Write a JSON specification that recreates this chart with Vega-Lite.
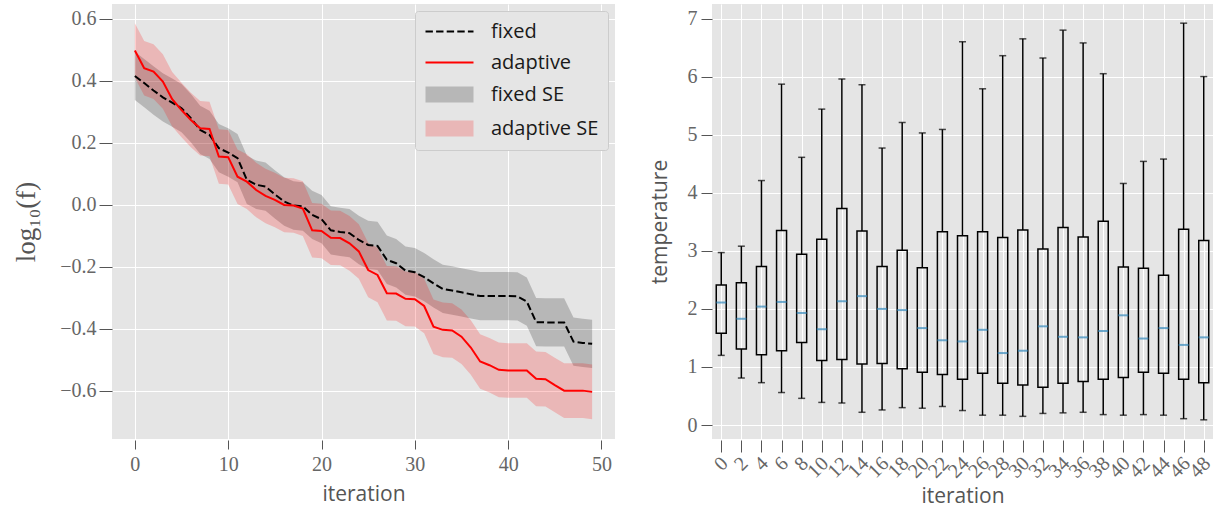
{
  "$schema": "https://vega.github.io/schema/vega-lite/v6.json",
  "background": "white",
  "padding": {"left": 12, "top": 4, "right": 0, "bottom": 0},
  "bounds": "flush",
  "spacing": 97,
  "config": {
    "view": {"fill": "#E5E5E5", "stroke": null},
    "axis": {
      "domain": false, "grid": true, "gridColor": "white", "gridWidth": 1,
      "tickColor": "#555555", "tickWidth": 1,
      "labelFont": "Liberation Serif", "labelFontSize": 20, "labelColor": "#666666",
      "titleFont": "Open Sans", "titleFontSize": 21, "titleFontWeight": "normal", "titleColor": "#555555"
    }
  },
  "datasets": {
    "curves": [
      {"iteration": 0, "fixed": 0.416, "adaptive": 0.498, "fixed_lo": 0.338, "fixed_hi": 0.494, "adaptive_lo": 0.410, "adaptive_hi": 0.586},
      {"iteration": 1, "fixed": 0.393, "adaptive": 0.441, "fixed_lo": 0.315, "fixed_hi": 0.471, "adaptive_lo": 0.353, "adaptive_hi": 0.529},
      {"iteration": 2, "fixed": 0.369, "adaptive": 0.430, "fixed_lo": 0.291, "fixed_hi": 0.447, "adaptive_lo": 0.342, "adaptive_hi": 0.518},
      {"iteration": 3, "fixed": 0.347, "adaptive": 0.398, "fixed_lo": 0.269, "fixed_hi": 0.425, "adaptive_lo": 0.310, "adaptive_hi": 0.486},
      {"iteration": 4, "fixed": 0.330, "adaptive": 0.341, "fixed_lo": 0.252, "fixed_hi": 0.408, "adaptive_lo": 0.253, "adaptive_hi": 0.429},
      {"iteration": 5, "fixed": 0.312, "adaptive": 0.306, "fixed_lo": 0.234, "fixed_hi": 0.390, "adaptive_lo": 0.218, "adaptive_hi": 0.394},
      {"iteration": 6, "fixed": 0.280, "adaptive": 0.274, "fixed_lo": 0.202, "fixed_hi": 0.358, "adaptive_lo": 0.186, "adaptive_hi": 0.362},
      {"iteration": 7, "fixed": 0.242, "adaptive": 0.247, "fixed_lo": 0.164, "fixed_hi": 0.320, "adaptive_lo": 0.159, "adaptive_hi": 0.335},
      {"iteration": 8, "fixed": 0.226, "adaptive": 0.245, "fixed_lo": 0.148, "fixed_hi": 0.304, "adaptive_lo": 0.157, "adaptive_hi": 0.333},
      {"iteration": 9, "fixed": 0.183, "adaptive": 0.156, "fixed_lo": 0.105, "fixed_hi": 0.261, "adaptive_lo": 0.068, "adaptive_hi": 0.244},
      {"iteration": 10, "fixed": 0.169, "adaptive": 0.154, "fixed_lo": 0.091, "fixed_hi": 0.247, "adaptive_lo": 0.066, "adaptive_hi": 0.242},
      {"iteration": 11, "fixed": 0.151, "adaptive": 0.091, "fixed_lo": 0.073, "fixed_hi": 0.229, "adaptive_lo": 0.003, "adaptive_hi": 0.179},
      {"iteration": 12, "fixed": 0.081, "adaptive": 0.075, "fixed_lo": 0.003, "fixed_hi": 0.159, "adaptive_lo": -0.013, "adaptive_hi": 0.163},
      {"iteration": 13, "fixed": 0.065, "adaptive": 0.048, "fixed_lo": -0.013, "fixed_hi": 0.143, "adaptive_lo": -0.040, "adaptive_hi": 0.136},
      {"iteration": 14, "fixed": 0.059, "adaptive": 0.029, "fixed_lo": -0.019, "fixed_hi": 0.137, "adaptive_lo": -0.059, "adaptive_hi": 0.117},
      {"iteration": 15, "fixed": 0.034, "adaptive": 0.016, "fixed_lo": -0.044, "fixed_hi": 0.112, "adaptive_lo": -0.072, "adaptive_hi": 0.104},
      {"iteration": 16, "fixed": 0.011, "adaptive": 0.000, "fixed_lo": -0.067, "fixed_hi": 0.089, "adaptive_lo": -0.088, "adaptive_hi": 0.088},
      {"iteration": 17, "fixed": -0.002, "adaptive": -0.002, "fixed_lo": -0.080, "fixed_hi": 0.076, "adaptive_lo": -0.090, "adaptive_hi": 0.086},
      {"iteration": 18, "fixed": -0.005, "adaptive": -0.012, "fixed_lo": -0.083, "fixed_hi": 0.073, "adaptive_lo": -0.100, "adaptive_hi": 0.076},
      {"iteration": 19, "fixed": -0.032, "adaptive": -0.082, "fixed_lo": -0.110, "fixed_hi": 0.046, "adaptive_lo": -0.170, "adaptive_hi": 0.006},
      {"iteration": 20, "fixed": -0.046, "adaptive": -0.084, "fixed_lo": -0.124, "fixed_hi": 0.032, "adaptive_lo": -0.172, "adaptive_hi": 0.004},
      {"iteration": 21, "fixed": -0.082, "adaptive": -0.106, "fixed_lo": -0.160, "fixed_hi": -0.004, "adaptive_lo": -0.194, "adaptive_hi": -0.018},
      {"iteration": 22, "fixed": -0.087, "adaptive": -0.107, "fixed_lo": -0.165, "fixed_hi": -0.009, "adaptive_lo": -0.195, "adaptive_hi": -0.019},
      {"iteration": 23, "fixed": -0.091, "adaptive": -0.124, "fixed_lo": -0.169, "fixed_hi": -0.013, "adaptive_lo": -0.212, "adaptive_hi": -0.036},
      {"iteration": 24, "fixed": -0.113, "adaptive": -0.150, "fixed_lo": -0.191, "fixed_hi": -0.035, "adaptive_lo": -0.238, "adaptive_hi": -0.062},
      {"iteration": 25, "fixed": -0.129, "adaptive": -0.210, "fixed_lo": -0.207, "fixed_hi": -0.051, "adaptive_lo": -0.298, "adaptive_hi": -0.122},
      {"iteration": 26, "fixed": -0.132, "adaptive": -0.226, "fixed_lo": -0.210, "fixed_hi": -0.054, "adaptive_lo": -0.314, "adaptive_hi": -0.138},
      {"iteration": 27, "fixed": -0.177, "adaptive": -0.285, "fixed_lo": -0.255, "fixed_hi": -0.099, "adaptive_lo": -0.373, "adaptive_hi": -0.197},
      {"iteration": 28, "fixed": -0.188, "adaptive": -0.286, "fixed_lo": -0.266, "fixed_hi": -0.110, "adaptive_lo": -0.374, "adaptive_hi": -0.198},
      {"iteration": 29, "fixed": -0.212, "adaptive": -0.303, "fixed_lo": -0.290, "fixed_hi": -0.134, "adaptive_lo": -0.391, "adaptive_hi": -0.215},
      {"iteration": 30, "fixed": -0.217, "adaptive": -0.304, "fixed_lo": -0.295, "fixed_hi": -0.139, "adaptive_lo": -0.392, "adaptive_hi": -0.216},
      {"iteration": 31, "fixed": -0.233, "adaptive": -0.326, "fixed_lo": -0.311, "fixed_hi": -0.155, "adaptive_lo": -0.414, "adaptive_hi": -0.238},
      {"iteration": 32, "fixed": -0.253, "adaptive": -0.393, "fixed_lo": -0.331, "fixed_hi": -0.175, "adaptive_lo": -0.481, "adaptive_hi": -0.305},
      {"iteration": 33, "fixed": -0.271, "adaptive": -0.403, "fixed_lo": -0.349, "fixed_hi": -0.193, "adaptive_lo": -0.491, "adaptive_hi": -0.315},
      {"iteration": 34, "fixed": -0.276, "adaptive": -0.405, "fixed_lo": -0.354, "fixed_hi": -0.198, "adaptive_lo": -0.493, "adaptive_hi": -0.317},
      {"iteration": 35, "fixed": -0.282, "adaptive": -0.425, "fixed_lo": -0.360, "fixed_hi": -0.204, "adaptive_lo": -0.513, "adaptive_hi": -0.337},
      {"iteration": 36, "fixed": -0.288, "adaptive": -0.460, "fixed_lo": -0.366, "fixed_hi": -0.210, "adaptive_lo": -0.548, "adaptive_hi": -0.372},
      {"iteration": 37, "fixed": -0.294, "adaptive": -0.505, "fixed_lo": -0.372, "fixed_hi": -0.216, "adaptive_lo": -0.593, "adaptive_hi": -0.417},
      {"iteration": 38, "fixed": -0.294, "adaptive": -0.517, "fixed_lo": -0.372, "fixed_hi": -0.216, "adaptive_lo": -0.605, "adaptive_hi": -0.429},
      {"iteration": 39, "fixed": -0.294, "adaptive": -0.532, "fixed_lo": -0.372, "fixed_hi": -0.216, "adaptive_lo": -0.620, "adaptive_hi": -0.444},
      {"iteration": 40, "fixed": -0.294, "adaptive": -0.534, "fixed_lo": -0.372, "fixed_hi": -0.216, "adaptive_lo": -0.622, "adaptive_hi": -0.446},
      {"iteration": 41, "fixed": -0.295, "adaptive": -0.534, "fixed_lo": -0.373, "fixed_hi": -0.217, "adaptive_lo": -0.622, "adaptive_hi": -0.446},
      {"iteration": 42, "fixed": -0.312, "adaptive": -0.534, "fixed_lo": -0.390, "fixed_hi": -0.234, "adaptive_lo": -0.622, "adaptive_hi": -0.446},
      {"iteration": 43, "fixed": -0.378, "adaptive": -0.561, "fixed_lo": -0.456, "fixed_hi": -0.300, "adaptive_lo": -0.649, "adaptive_hi": -0.473},
      {"iteration": 44, "fixed": -0.379, "adaptive": -0.562, "fixed_lo": -0.457, "fixed_hi": -0.301, "adaptive_lo": -0.650, "adaptive_hi": -0.474},
      {"iteration": 45, "fixed": -0.379, "adaptive": -0.581, "fixed_lo": -0.457, "fixed_hi": -0.301, "adaptive_lo": -0.669, "adaptive_hi": -0.493},
      {"iteration": 46, "fixed": -0.379, "adaptive": -0.599, "fixed_lo": -0.457, "fixed_hi": -0.301, "adaptive_lo": -0.687, "adaptive_hi": -0.511},
      {"iteration": 47, "fixed": -0.441, "adaptive": -0.599, "fixed_lo": -0.519, "fixed_hi": -0.363, "adaptive_lo": -0.687, "adaptive_hi": -0.511},
      {"iteration": 48, "fixed": -0.445, "adaptive": -0.599, "fixed_lo": -0.523, "fixed_hi": -0.367, "adaptive_lo": -0.687, "adaptive_hi": -0.511},
      {"iteration": 49, "fixed": -0.448, "adaptive": -0.603, "fixed_lo": -0.526, "fixed_hi": -0.370, "adaptive_lo": -0.691, "adaptive_hi": -0.515}
    ],
    "series": [
      {"series": "fixed"},
      {"series": "adaptive"},
      {"series": "fixed SE"},
      {"series": "adaptive SE"}
    ],
    "boxes": [
      {"iteration": 0, "lo": 1.20, "q1": 1.58, "median": 2.11, "q3": 2.41, "hi": 2.97},
      {"iteration": 2, "lo": 0.81, "q1": 1.31, "median": 1.83, "q3": 2.45, "hi": 3.08},
      {"iteration": 4, "lo": 0.73, "q1": 1.21, "median": 2.04, "q3": 2.73, "hi": 4.21},
      {"iteration": 6, "lo": 0.56, "q1": 1.28, "median": 2.12, "q3": 3.35, "hi": 5.87},
      {"iteration": 8, "lo": 0.46, "q1": 1.42, "median": 1.93, "q3": 2.94, "hi": 4.61},
      {"iteration": 10, "lo": 0.39, "q1": 1.11, "median": 1.65, "q3": 3.20, "hi": 5.44},
      {"iteration": 12, "lo": 0.38, "q1": 1.13, "median": 2.13, "q3": 3.73, "hi": 5.96},
      {"iteration": 14, "lo": 0.22, "q1": 1.05, "median": 2.22, "q3": 3.34, "hi": 5.86},
      {"iteration": 16, "lo": 0.26, "q1": 1.06, "median": 2.00, "q3": 2.73, "hi": 4.77},
      {"iteration": 18, "lo": 0.30, "q1": 0.97, "median": 1.98, "q3": 3.01, "hi": 5.21},
      {"iteration": 20, "lo": 0.29, "q1": 0.91, "median": 1.67, "q3": 2.71, "hi": 5.03},
      {"iteration": 22, "lo": 0.32, "q1": 0.87, "median": 1.46, "q3": 3.33, "hi": 5.09},
      {"iteration": 24, "lo": 0.25, "q1": 0.79, "median": 1.44, "q3": 3.26, "hi": 6.60},
      {"iteration": 26, "lo": 0.17, "q1": 0.89, "median": 1.64, "q3": 3.33, "hi": 5.79},
      {"iteration": 28, "lo": 0.17, "q1": 0.72, "median": 1.24, "q3": 3.23, "hi": 6.36},
      {"iteration": 30, "lo": 0.15, "q1": 0.69, "median": 1.28, "q3": 3.36, "hi": 6.65},
      {"iteration": 32, "lo": 0.20, "q1": 0.65, "median": 1.70, "q3": 3.03, "hi": 6.32},
      {"iteration": 34, "lo": 0.21, "q1": 0.72, "median": 1.52, "q3": 3.40, "hi": 6.80},
      {"iteration": 36, "lo": 0.22, "q1": 0.75, "median": 1.51, "q3": 3.24, "hi": 6.58},
      {"iteration": 38, "lo": 0.18, "q1": 0.79, "median": 1.62, "q3": 3.51, "hi": 6.05},
      {"iteration": 40, "lo": 0.17, "q1": 0.82, "median": 1.89, "q3": 2.72, "hi": 4.16},
      {"iteration": 42, "lo": 0.18, "q1": 0.91, "median": 1.49, "q3": 2.70, "hi": 4.54},
      {"iteration": 44, "lo": 0.17, "q1": 0.89, "median": 1.67, "q3": 2.58, "hi": 4.58},
      {"iteration": 46, "lo": 0.11, "q1": 0.79, "median": 1.38, "q3": 3.37, "hi": 6.92},
      {"iteration": 48, "lo": 0.09, "q1": 0.73, "median": 1.51, "q3": 3.18, "hi": 6.00}
    ]
  },
  "resolve": {
    "scale": {"fill": "independent", "stroke": "independent", "shape": "independent", "strokeDash": "independent"},
    "legend": {"fill": "independent", "stroke": "independent", "shape": "independent", "strokeDash": "independent"}
  },
  "hconcat": [
    {
      "width": 503,
      "height": 435,
      "view": {"fill": "#E5E5E5", "stroke": null},
      "layer": [
        {
          "data": {"name": "curves"},
          "mark": {"type": "area", "color": "black", "opacity": 0.2},
          "encoding": {
            "x": {
              "field": "iteration", "type": "quantitative",
              "scale": {"domain": [-2.45, 51.45], "nice": false, "zero": false},
              "axis": {"values": [0, 10, 20, 30, 40, 50], "format": "d", "title": "iteration", "labelFont": "Liberation Serif", "labelFontSize": 20, "tickSize": 9, "labelPadding": 5, "titlePadding": 9, "offset": 1}
            },
            "y": {
              "field": "fixed_lo", "type": "quantitative",
              "scale": {"domain": [-0.755, 0.648], "nice": false, "zero": false},
              "axis": {"values": [-0.6, -0.4, -0.2, 0, 0.2, 0.4, 0.6], "format": ".1f", "title": "log₁₀(f)", "labelFont": "Liberation Serif", "labelFontSize": 20, "titleFont": "Liberation Serif", "titleFontSize": 27, "titleColor": "#555555", "tickSize": 13, "labelPadding": 3, "titlePadding": 19}
            },
            "y2": {"field": "fixed_hi"}
          }
        },
        {
          "data": {"name": "curves"},
          "mark": {"type": "area", "color": "red", "opacity": 0.2},
          "encoding": {
            "x": {"field": "iteration", "type": "quantitative"},
            "y": {"field": "adaptive_lo", "type": "quantitative"},
            "y2": {"field": "adaptive_hi"}
          }
        },
        {
          "data": {"name": "curves"},
          "mark": {"type": "line", "color": "black", "strokeDash": [7.4, 3.2], "strokeWidth": 2},
          "encoding": {
            "x": {"field": "iteration", "type": "quantitative"},
            "y": {"field": "fixed", "type": "quantitative"}
          }
        },
        {
          "data": {"name": "curves"},
          "mark": {"type": "line", "color": "red", "strokeWidth": 2},
          "encoding": {
            "x": {"field": "iteration", "type": "quantitative"},
            "y": {"field": "adaptive", "type": "quantitative"}
          }
        },
        {
          "data": {"name": "series"},
          "mark": {"type": "point", "opacity": 0, "filled": false},
          "encoding": {
            "fill": {
              "field": "series", "type": "nominal",
              "scale": {"domain": ["fixed", "adaptive", "fixed SE", "adaptive SE"], "range": ["transparent", "transparent", "#B7B7B7", "#E9B7B7"]},
              "legend": {
                "title": null, "orient": "top-right", "offset": 7, "padding": 9,
                "fillColor": "#E5E5E5", "strokeColor": "#CCCCCC", "cornerRadius": 3,
                "labelFont": "Open Sans", "labelFontSize": 20, "labelColor": "#1a1a1a",
                "symbolSize": 400, "rowPadding": 9, "labelOffset": 44, "symbolStrokeWidth": 2.2, "symbolOpacity": 1
              }
            },
            "stroke": {
              "field": "series", "type": "nominal",
              "scale": {"domain": ["fixed", "adaptive", "fixed SE", "adaptive SE"], "range": ["black", "red", "transparent", "transparent"]},
              "legend": {
                "title": null, "orient": "top-right", "offset": 7, "padding": 9,
                "fillColor": "#E5E5E5", "strokeColor": "#CCCCCC", "cornerRadius": 3,
                "labelFont": "Open Sans", "labelFontSize": 20, "labelColor": "#1a1a1a",
                "symbolSize": 400, "rowPadding": 9, "labelOffset": 44, "symbolStrokeWidth": 2.2, "symbolOpacity": 1
              }
            },
            "shape": {
              "field": "series", "type": "nominal",
              "scale": {"domain": ["fixed", "adaptive", "fixed SE", "adaptive SE"], "range": ["M-1,0H3.8", "M-1,0H3.8", "M-1,-0.8H3.8V0.8H-1Z", "M-1,-0.8H3.8V0.8H-1Z"]},
              "legend": {
                "title": null, "orient": "top-right", "offset": 7, "padding": 9,
                "fillColor": "#E5E5E5", "strokeColor": "#CCCCCC", "cornerRadius": 3,
                "labelFont": "Open Sans", "labelFontSize": 20, "labelColor": "#1a1a1a",
                "symbolSize": 400, "rowPadding": 9, "labelOffset": 44, "symbolStrokeWidth": 2.2, "symbolOpacity": 1
              }
            },
            "strokeDash": {
              "field": "series", "type": "nominal",
              "scale": {"domain": ["fixed", "adaptive", "fixed SE", "adaptive SE"], "range": [[7.4, 3.2], [1, 0], [1, 0], [1, 0]]},
              "legend": {
                "title": null, "orient": "top-right", "offset": 7, "padding": 9,
                "fillColor": "#E5E5E5", "strokeColor": "#CCCCCC", "cornerRadius": 3,
                "labelFont": "Open Sans", "labelFontSize": 20, "labelColor": "#1a1a1a",
                "symbolSize": 400, "rowPadding": 9, "labelOffset": 44, "symbolStrokeWidth": 2.2, "symbolOpacity": 1
              }
            }
          }
        }
      ]
    },
    {
      "width": 501,
      "height": 435,
      "view": {"fill": "#E5E5E5", "stroke": null},
      "data": {"name": "boxes"},
      "encoding": {
        "x": {
          "field": "iteration", "type": "ordinal",
          "scale": {"type": "point", "padding": 0.46},
          "axis": {"labelAngle": -45, "labelAlign": "right", "labelBaseline": "middle", "labelOffset": 3, "labelFont": "Liberation Serif", "labelFontSize": 20, "tickSize": 12, "labelPadding": 8, "title": "iteration", "titlePadding": 4, "offset": 1}
        }
      },
      "layer": [
        {
          "mark": {"type": "rule", "color": "black", "strokeWidth": 1.5},
          "encoding": {
            "y": {
              "field": "lo", "type": "quantitative",
              "scale": {"domain": [-0.24, 7.25], "nice": false, "zero": false},
              "axis": {"values": [0, 1, 2, 3, 4, 5, 6, 7], "format": "d", "title": "temperature", "labelFont": "Liberation Serif", "labelFontSize": 20, "tickSize": 11, "labelPadding": 4, "titlePadding": 17}
            },
            "y2": {"field": "q1"}
          }
        },
        {
          "mark": {"type": "rule", "color": "black", "strokeWidth": 1.5},
          "encoding": {
            "y": {"field": "q3", "type": "quantitative"},
            "y2": {"field": "hi"}
          }
        },
        {
          "mark": {"type": "tick", "color": "black", "size": 7, "thickness": 1.5},
          "encoding": {"y": {"field": "lo", "type": "quantitative"}}
        },
        {
          "mark": {"type": "tick", "color": "black", "size": 7, "thickness": 1.5},
          "encoding": {"y": {"field": "hi", "type": "quantitative"}}
        },
        {
          "mark": {"type": "bar", "fill": "transparent", "stroke": "black", "strokeWidth": 1.5, "size": 10},
          "encoding": {
            "y": {"field": "q1", "type": "quantitative"},
            "y2": {"field": "q3"}
          }
        },
        {
          "mark": {"type": "tick", "color": "#348ABD", "size": 10, "thickness": 2},
          "encoding": {"y": {"field": "median", "type": "quantitative"}}
        }
      ]
    }
  ]
}
